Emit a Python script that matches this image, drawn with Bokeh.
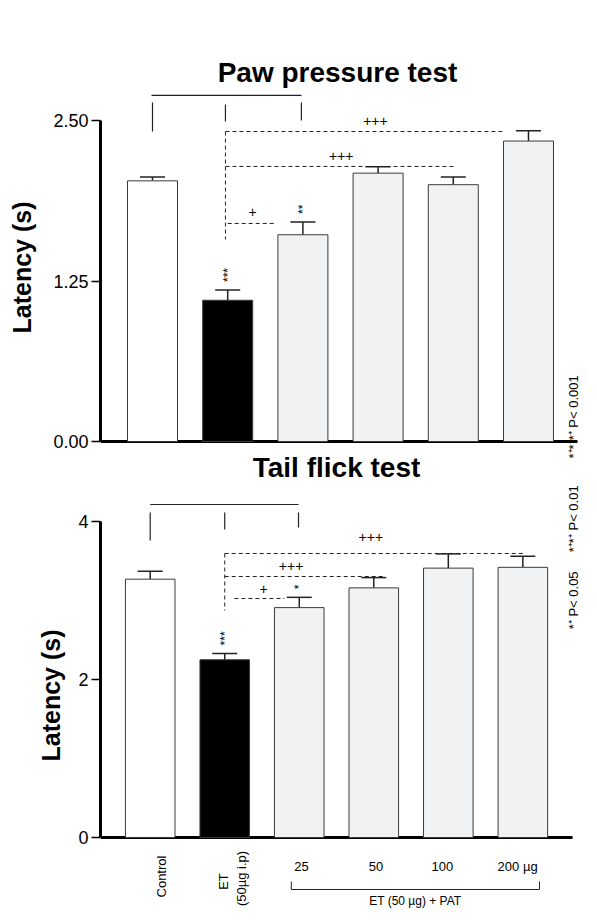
from math import pi
from bokeh.plotting import figure
from bokeh.models import (Range1d, FixedTicker, Label, LabelSet, ColumnDataSource,
                          Whisker, TeeHead, Arrow, PrintfTickFormatter)
from bokeh.core.properties import value
from bokeh.layouts import column
from bokeh.embed import file_html
from bokeh.resources import INLINE

# ---------------- data ----------------
groups = ["Control", "ET", "25", "50", "100", "200"]
paw_mean = [2.03, 1.10, 1.61, 2.09, 2.00, 2.34]
paw_sem = [0.03, 0.08, 0.10, 0.05, 0.06, 0.08]
tail_mean = [3.27, 2.25, 2.91, 3.16, 3.41, 3.42]
tail_sem = [0.10, 0.08, 0.13, 0.13, 0.18, 0.14]
paw_stars = ["", "***", "**", "", "", ""]
tail_stars = ["", "***", "*", "", "", ""]
paw_ticks = [0, 1.25, 2.5]
tail_ticks = [0, 2, 4]
dose_labels = ["25", "50", "100", "200 \u00b5g"]
group_labels = ["Control", "ET", "(50\u00b5g i.p)"]
legend_texts = ["*\u207a*\u207a*\u207a  P< 0.001", "*\u207a*\u207a  P< 0.01", "*\u207a  P< 0.05"]

FONT = "Liberation Sans"
bar_fill = ["white", "black", "#f1f2f4", "#f1f2f4", "#f1f2f4", "#f1f2f4"]
xs = list(range(len(groups)))


def base_panel(p, ticks, fmt, ybound, x_left, x_right, standoff):
    p.xgrid.visible = False
    p.ygrid.visible = False
    p.outline_line_color = None
    p.background_fill_color = "white"
    p.border_fill_color = "white"
    ya = p.yaxis[0]
    ya.ticker = FixedTicker(ticks=ticks)
    ya.formatter = PrintfTickFormatter(format=fmt)
    ya.bounds = (0, ybound)
    ya.axis_line_width = 3
    ya.axis_line_color = "black"
    ya.major_tick_out = 9
    ya.major_tick_in = 0
    ya.major_tick_line_width = 1.5
    ya.minor_tick_line_color = None
    ya.major_label_text_font = FONT
    ya.major_label_text_font_size = "18px"
    ya.major_label_text_color = "black"
    ya.major_label_standoff = 3
    ya.axis_label = "Latency (s)"
    ya.axis_label_text_font = FONT
    ya.axis_label_text_font_size = "25px"
    ya.axis_label_text_font_style = "bold"
    ya.axis_label_text_color = "black"
    ya.axis_label_standoff = standoff
    # baseline (x axis line)
    p.segment(x0=[x_left], y0=[0], x1=[x_right], y1=[0], line_color="black", line_width=3)


def bars(p, means, sems, stars):
    src = ColumnDataSource(dict(x=xs, top=means, upper=[m + s for m, s in zip(means, sems)],
                                fill=bar_fill, stars=stars))
    p.vbar(x="x", top="top", width=0.665, bottom=0, source=src, fill_color="fill",
           line_color="#3a3a3a", line_width=1)
    p.add_layout(Whisker(source=src, base="x", lower="top", upper="upper", dimension="height",
                         line_color="#222222", line_width=1.5, lower_head=None,
                         upper_head=TeeHead(size=25, line_color="#222222", line_width=1.5)))
    p.add_layout(LabelSet(x="x", y="upper", text="stars", source=src, angle=pi / 2,
                          text_align="left", text_baseline="middle", y_offset=8,
                          text_font=value(FONT), text_font_size="12px", text_color="black"))


def sig(p, lines, vline):
    for (x0, x1, y, lab, lx, ly) in lines:
        p.segment(x0=[x0], y0=[y], x1=[x1], y1=[y], line_color="#222222", line_width=1,
                  line_dash="4 3")
        p.text(x=[lx], y=[ly], text=[lab], text_align="center", text_baseline="middle",
               text_font=value(FONT), text_font_size="14px", text_color="black")
    vx, vy0, vy1 = vline
    p.segment(x0=[vx], y0=[vy0], x1=[vx], y1=[vy1], line_color="#222222", line_width=1,
              line_dash="4 3")


def bracket(p, y, x0, x1, verts):
    p.segment(x0=[x0], y0=[y], x1=[x1], y1=[y], line_color="#222222", line_width=1.2)
    for vx, a, b in verts:
        p.segment(x0=[vx], y0=[a], x1=[vx], y1=[b], line_color="#222222", line_width=1.2)


def legend(p, x, y, txt):
    p.add_layout(Label(x=x, y=y, text=txt, angle=pi / 2, text_align="center",
                       text_baseline="middle", text_font=FONT, text_font_size="13px",
                       text_color="black"))


# ---------------- Paw pressure panel ----------------
p1 = figure(width=581, height=482, x_range=Range1d(-0.6915, 5.705), y_range=Range1d(-0.3193, 3.0296),
            output_backend="svg", toolbar_location=None, x_axis_location=None,
            min_border_left=100, min_border_right=0, min_border_top=52, min_border_bottom=0)
base_panel(p1, paw_ticks, "%.2f", 2.5, -0.6915, 5.652, 14)
bracket(p1, 2.695, -0.013, 1.981, [(0, 2.640, 2.414), (0.97, 2.625, 2.492), (1.98, 2.640, 2.50)])
sig(p1, [(0.97, 4.67, 2.414, "+++", 2.965, 2.50),
         (0.97, 4.016, 2.142, "+++", 2.51, 2.22),
         (1.0, 1.636, 1.698, "+", 1.33, 1.79)], (0.97, 2.414, 1.573))
bars(p1, paw_mean, paw_sem, paw_stars)
p1.add_layout(Label(x=2.46, y=2.874, text="Paw pressure test", text_align="center",
                    text_baseline="middle", text_font=FONT, text_font_size="28px",
                    text_font_style="bold", text_color="black"))
p1.add_layout(Label(x=2.447, y=-0.2025, text="Tail flick test", text_align="center",
                    text_baseline="middle", text_font=FONT, text_font_size="28px",
                    text_font_style="bold", text_color="black"))
legend(p1, 5.598, 0.206, legend_texts[0])

# ---------------- Tail flick panel ----------------
p2 = figure(width=581, height=426, x_range=Range1d(-0.667, 5.787), y_range=Range1d(-0.8987, 4.4937),
            output_backend="svg", toolbar_location=None, x_axis_location=None,
            min_border_left=97, min_border_right=0, min_border_top=0, min_border_bottom=0)
base_panel(p2, tail_ticks, "%d", 4, -0.667, 5.667, 10)
bracket(p2, 4.215, 0, 1.99, [(0, 4.114, 3.759), (1.0, 4.114, 3.899), (1.99, 4.114, 3.924)])
sig(p2, [(1.0, 5.0, 3.595, "+++", 2.96, 3.80),
         (1.0, 3.16, 3.304, "+++", 1.89, 3.443),
         (1.13, 1.8, 3.025, "+", 1.52, 3.15)], (1.0, 3.595, 2.873))
bars(p2, tail_mean, tail_sem, tail_stars)
legend(p2, 5.68, 4.057, legend_texts[1])
legend(p2, 5.68, 3.025, legend_texts[2])

# category labels under the tail panel
rot_src = ColumnDataSource(dict(x=[0 + 0.156, 1 - 0.023, 1 + 0.229], y=[-0.494, -0.557, -0.519],
                                text=group_labels))
p2.add_layout(LabelSet(x="x", y="y", text="text", source=rot_src, angle=pi / 2,
                       text_align="center", text_baseline="middle", text_font=value(FONT),
                       text_font_size="13px", text_color="black"))
dose_src = ColumnDataSource(dict(x=[2.03, 3.03, 3.92, 4.93], y=[-0.363] * 4, text=dose_labels))
p2.add_layout(LabelSet(x="x", y="y", text="text", source=dose_src, text_align="center",
                       text_baseline="middle", text_font=value(FONT), text_font_size="13px",
                       text_color="black"))
# PAT bracket
for (xa, ya, xb, yb) in [(1.893, -0.658, 5.223, -0.658), (1.893, -0.658, 1.893, -0.557),
                         (5.223, -0.658, 5.223, -0.557)]:
    p2.add_layout(Arrow(x_start=xa, y_start=ya, x_end=xb, y_end=yb, end=None,
                        line_color="#222222", line_width=1))
p2.add_layout(Label(x=3.557, y=-0.81, text="ET (50 \u00b5g) + PAT", text_align="center",
                    text_baseline="middle", text_font=FONT, text_font_size="12px",
                    text_color="black"))

layout = column(p1, p2, spacing=0)
open("out.html", "w").write(file_html(layout, INLINE))
